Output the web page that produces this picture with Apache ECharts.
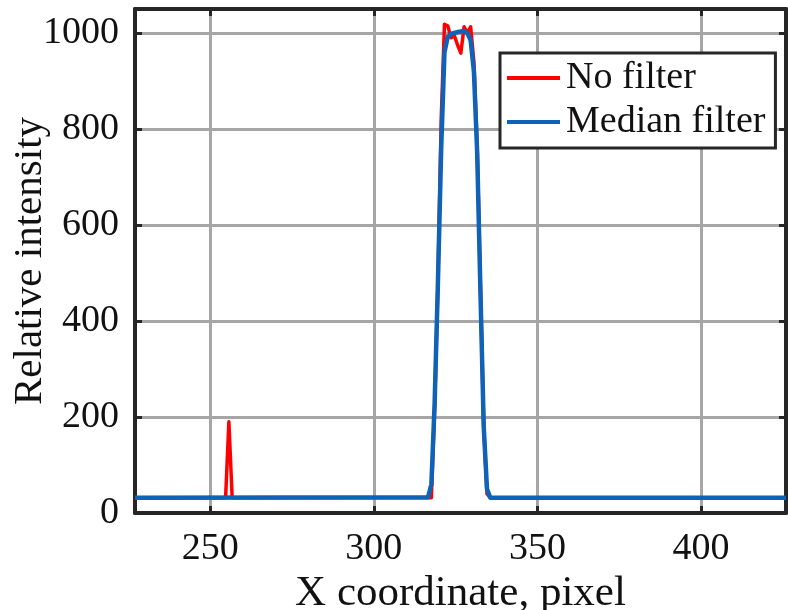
<!DOCTYPE html>
<html>
<head>
<meta charset="utf-8">
<script src="https://cdn.jsdelivr.net/npm/echarts@6/dist/echarts.min.js"></script>
<style>
html,body{margin:0;padding:0;background:#fff;}
#chart{width:788px;height:610px;}
</style>
</head>
<body>
<div id="chart"></div>
<script>
// Data
const seriesNames = ['No filter', 'Median filter'];
const noFilterX = [227, 254.7, 255.7, 256.7, 317.6, 318.6, 319.6, 320.6, 321.6, 322.6, 323.6, 324.6, 325.6, 326.6, 327.6, 328.6, 329.6, 330.6, 331.6, 332.6, 333.6, 334.6, 335.6, 426];
const noFilterY = [32, 32, 190, 32, 32, 220, 480, 820, 1018, 1015, 990, 995, 975, 958, 1013, 1000, 1013, 940, 765, 470, 180, 40, 32, 32];
const medianX = [227, 316.6, 317.6, 318.6, 319.6, 320.6, 321.6, 322.6, 323.6, 324.6, 325.6, 326.6, 327.6, 328.6, 329.6, 330.6, 331.6, 332.6, 333.6, 334.6, 335.6, 426];
const medianY = [32, 33, 60, 230, 480, 760, 960, 992, 998, 1000, 1002, 1003, 1004, 1000, 985, 920, 750, 460, 180, 50, 32, 32];
const xTicks = [250, 300, 350, 400];
const yTicks = [0, 200, 400, 600, 800, 1000];

const pairs = (xs, ys) => xs.map((x, i) => [x, ys[i]]);
const FONT = 'Liberation Serif';
const AX = '#262626';

const chart = echarts.init(document.getElementById('chart'), null, {renderer: 'canvas'});
const baseX = {
  type: 'value', min: 227, max: 426, splitNumber: 4,
  axisLine: {show: true, onZero: false, lineStyle: {color: AX, width: 4}},
  axisTick: {show: true, inside: true, length: 7, lineStyle: {color: AX, width: 3},
             customValues: xTicks},
};
const baseY = {
  type: 'value', min: 0, max: 1050, interval: 200,
  axisLine: {show: true, onZero: false, lineStyle: {color: AX, width: 4}},
  axisTick: {show: true, inside: true, length: 7, lineStyle: {color: AX, width: 3},
             customValues: yTicks},
};
chart.setOption({
  animation: false,
  backgroundColor: '#fff',
  grid: {left: 135, right: 2, top: 9, bottom: 97, containLabel: false, outerBoundsMode: 'none'},
  legend: {
    orient: 'vertical', left: 500, top: 53,
    data: seriesNames,
    icon: 'rect', itemWidth: 53, itemHeight: 4, itemGap: 4,
    padding: [5, 10, 6, 7],
    borderColor: AX, borderWidth: 3, backgroundColor: '#fff',
    textStyle: {fontFamily: FONT, fontSize: 38, lineHeight: 40, color: '#111', padding: [0, 0, 0, 1]}
  },
  xAxis: [
    Object.assign({}, baseX, {
      position: 'bottom',
      name: 'X coordinate, pixel', nameLocation: 'middle', nameGap: 59, nameMoveOverlap: false,
      nameTextStyle: {fontFamily: FONT, fontSize: 43, color: '#111'},
      axisLabel: {show: true, margin: 17, fontFamily: FONT, fontSize: 38, color: '#111',
                  customValues: xTicks},
      splitLine: {show: true, lineStyle: {color: '#a6a6a6', width: 3}},
    }),
    Object.assign({}, baseX, {
      position: 'top',
      axisLabel: {show: false},
      splitLine: {show: false},
    })
  ],
  yAxis: [
    Object.assign({}, baseY, {
      position: 'left',
      name: 'Relative intensity', nameLocation: 'middle', nameGap: 84, nameRotate: 90, nameMoveOverlap: false,
      nameTextStyle: {fontFamily: FONT, fontSize: 41, color: '#111'},
      axisLabel: {show: true, margin: 16, fontFamily: FONT, fontSize: 38, color: '#111',
                  formatter: v => (v % 200 === 0 ? String(v) : '')},
      splitLine: {show: true, lineStyle: {color: '#a6a6a6', width: 3}},
    }),
    Object.assign({}, baseY, {
      position: 'right',
      axisLabel: {show: false},
      splitLine: {show: false},
    })
  ],
  series: [
    {
      name: seriesNames[0], type: 'line', xAxisIndex: 0, yAxisIndex: 0,
      data: pairs(noFilterX, noFilterY),
      showSymbol: false, symbol: 'none',
      lineStyle: {color: '#ff0000', width: 3.5, join: 'round'},
      itemStyle: {color: '#ff0000'}, z: 3
    },
    {
      name: seriesNames[1], type: 'line', xAxisIndex: 0, yAxisIndex: 0,
      data: pairs(medianX, medianY),
      showSymbol: false, symbol: 'none',
      lineStyle: {color: '#0e63b8', width: 4.5, join: 'round'},
      itemStyle: {color: '#0e63b8'}, z: 4
    }
  ]
});
</script>
</body>
</html>
